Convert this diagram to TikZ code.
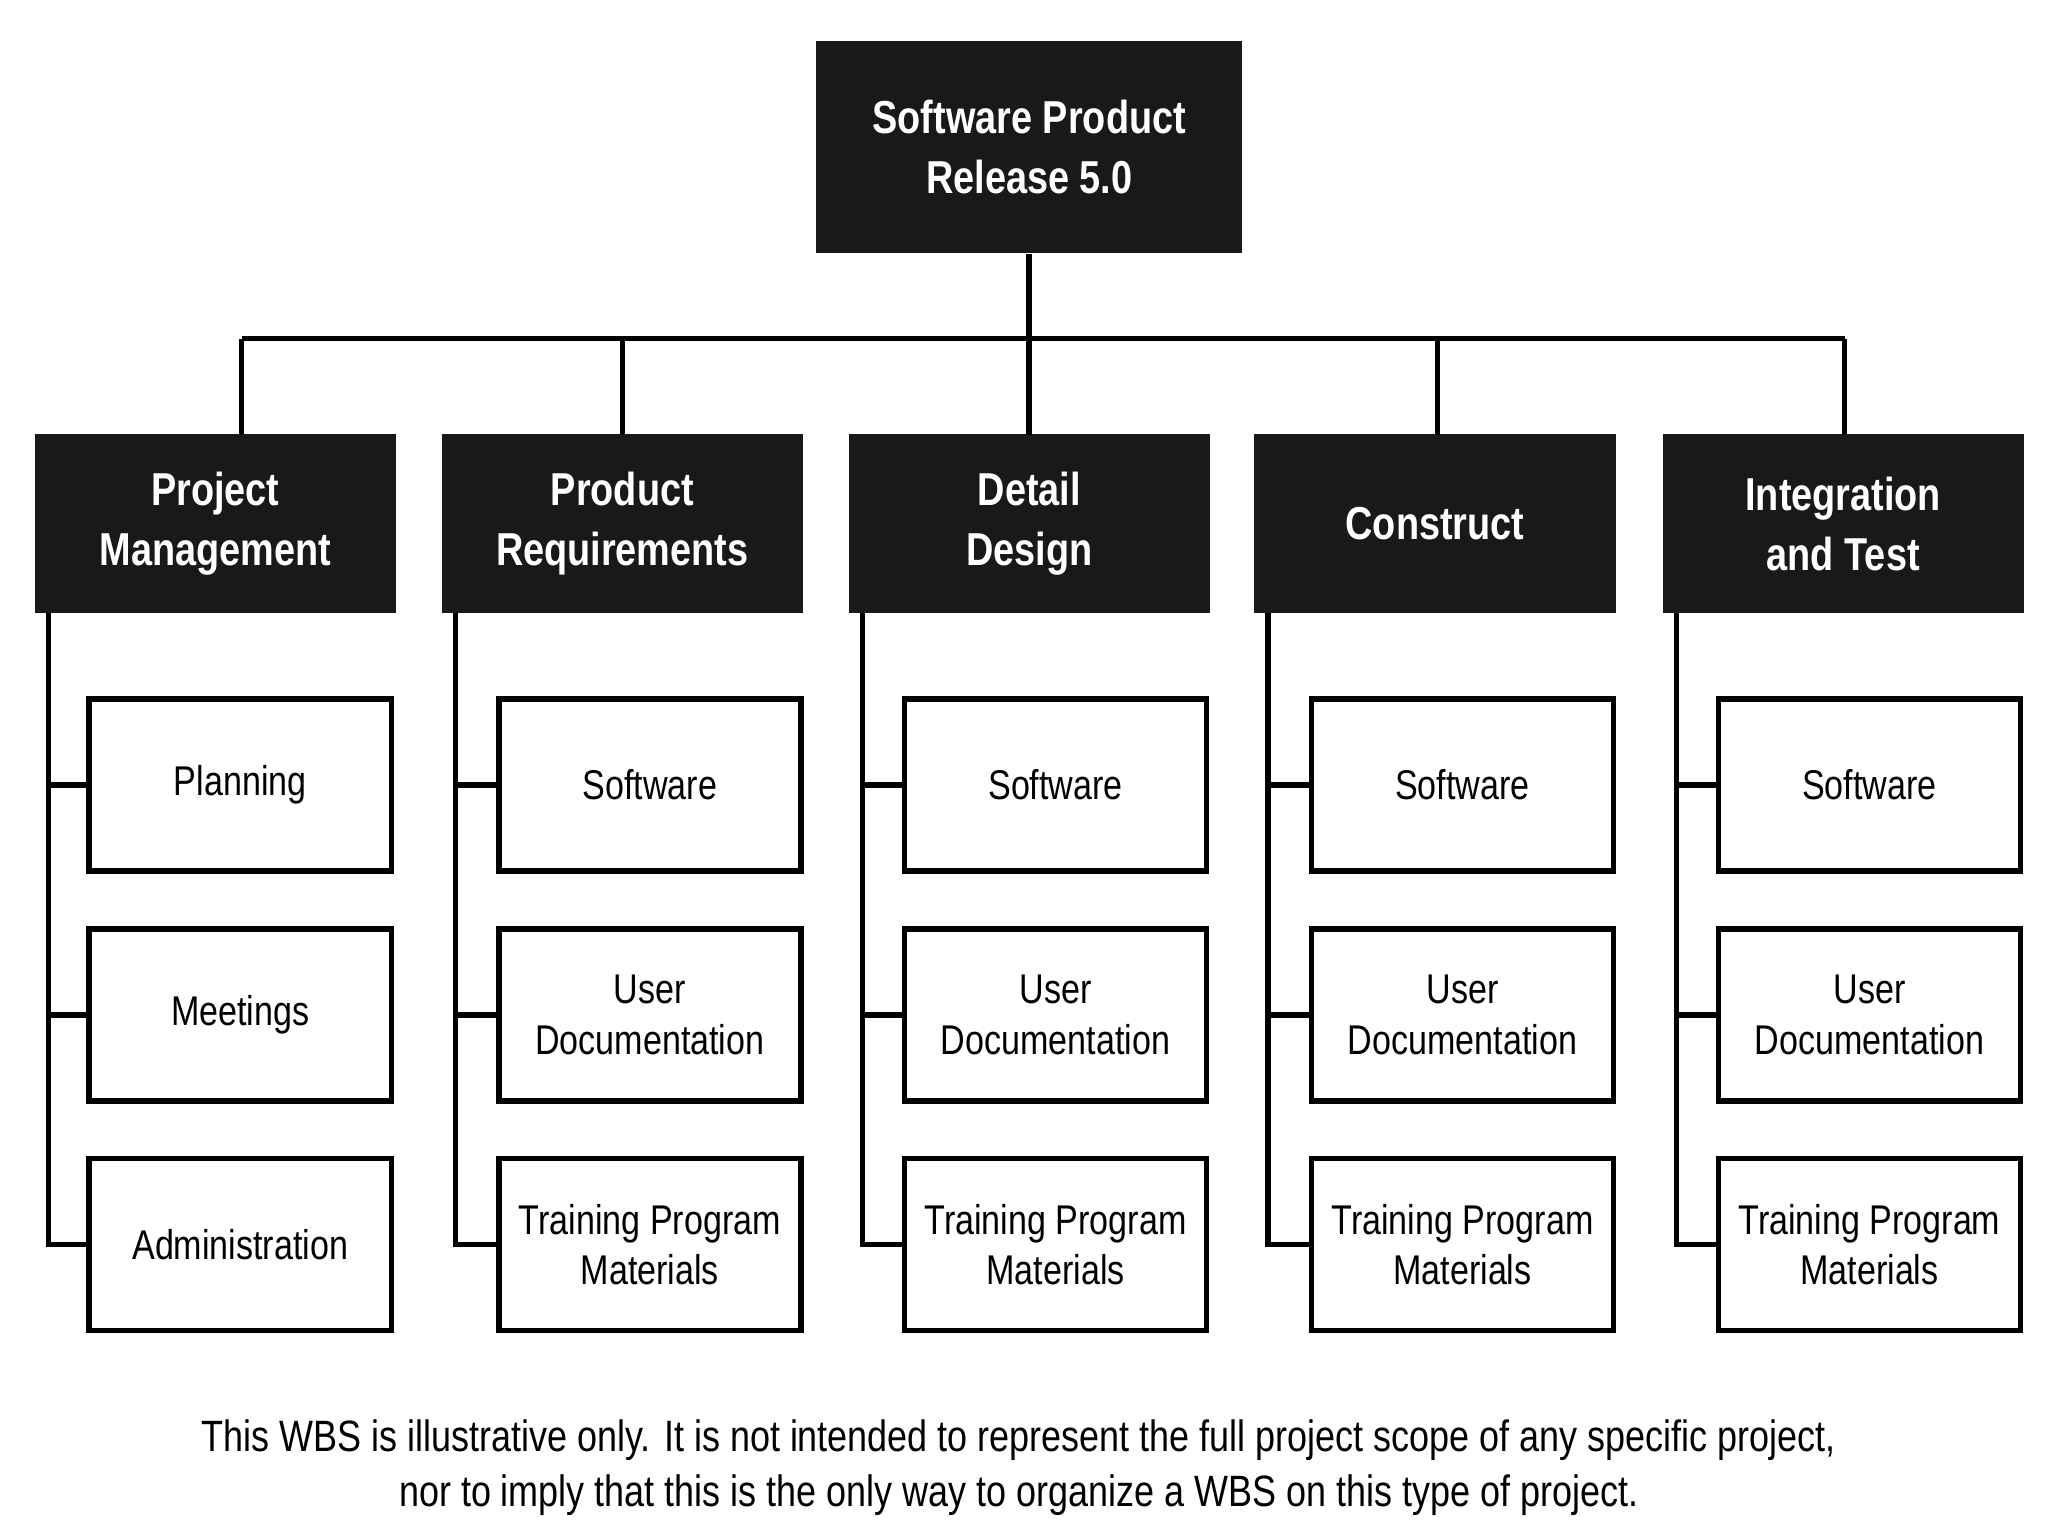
\documentclass[tikz,border=0pt]{standalone}
\usepackage{fontspec}
\setmainfont[FakeStretch=0.82]{Liberation Sans}
\usetikzlibrary{positioning}
\tikzset{
	head/.style={fill=black!90,text=white,font=\bfseries\fontsize{10}{13}\selectfont,align=center,
		minimum width=2.75cm,minimum height=1.36cm,inner sep=0pt},
	item/.style={draw,line width=1.2pt,fill=white,font=\fontsize{9}{11}\selectfont,align=center,
		minimum width=2.3cm,minimum height=1.31cm,inner sep=0pt},
	link/.style={line width=1.2pt}
}
\begin{document}
\begin{tikzpicture}[x=0.01cm,y=-0.01cm]
\useasboundingbox (0,0) rectangle (1560,1170);
\node[head,minimum width=3.24cm,minimum height=1.62cm] (root) at (784,112) {Software Product\\Release 5.0};
\coordinate (bus) at (784,258);
\draw[link] (root.south) -- (bus);
\foreach \name/\cx/\dx/\lbl in {pm/164/184/{Project\\Management},pr/474/474/{Product\\Requirements},dd/784/784/{Detail\\Design},co/1093/1095/{Construct},it/1404/1405/{Integration\\and Test}}{
	\node[head] (\name) at (\cx,399) {\lbl};
	\coordinate (\name top) at (\dx,258);
	\draw[link] (\name top) -- (\dx,331);
	\coordinate (\name spine) at (\cx-127,467);
}
\draw[link] (pmtop) -- (ittop);
% work packages
\node[item] (pm1) at (183,598) {Planning};
\node[item] (pm2) at (183,773) {Meetings};
\node[item] (pm3) at (183,948) {Administration};
\foreach \name/\sx in {pr/495,dd/804,co/1114,it/1424}{
	\node[item] (\name1) at (\sx,598) {Software};
	\node[item] (\name2) at (\sx,773) {User\\Documentation};
	\node[item] (\name3) at (\sx,948) {Training Program\\Materials};
}
\foreach \name in {pm,pr,dd,co,it}{
	\draw[link] (\name spine) |- (\name3.west);
	\draw[link] (\name spine |- \name1.west) -- (\name1.west);
	\draw[link] (\name spine |- \name2.west) -- (\name2.west);
}
\node[font=\fontsize{9.5}{12}\selectfont,align=center] (note) at (776,1118)
	{This WBS is illustrative only. It is not intended to represent the full project scope of any specific project,\\
	nor to imply that this is the only way to organize a WBS on this type of project.};
\end{tikzpicture}
\end{document}
